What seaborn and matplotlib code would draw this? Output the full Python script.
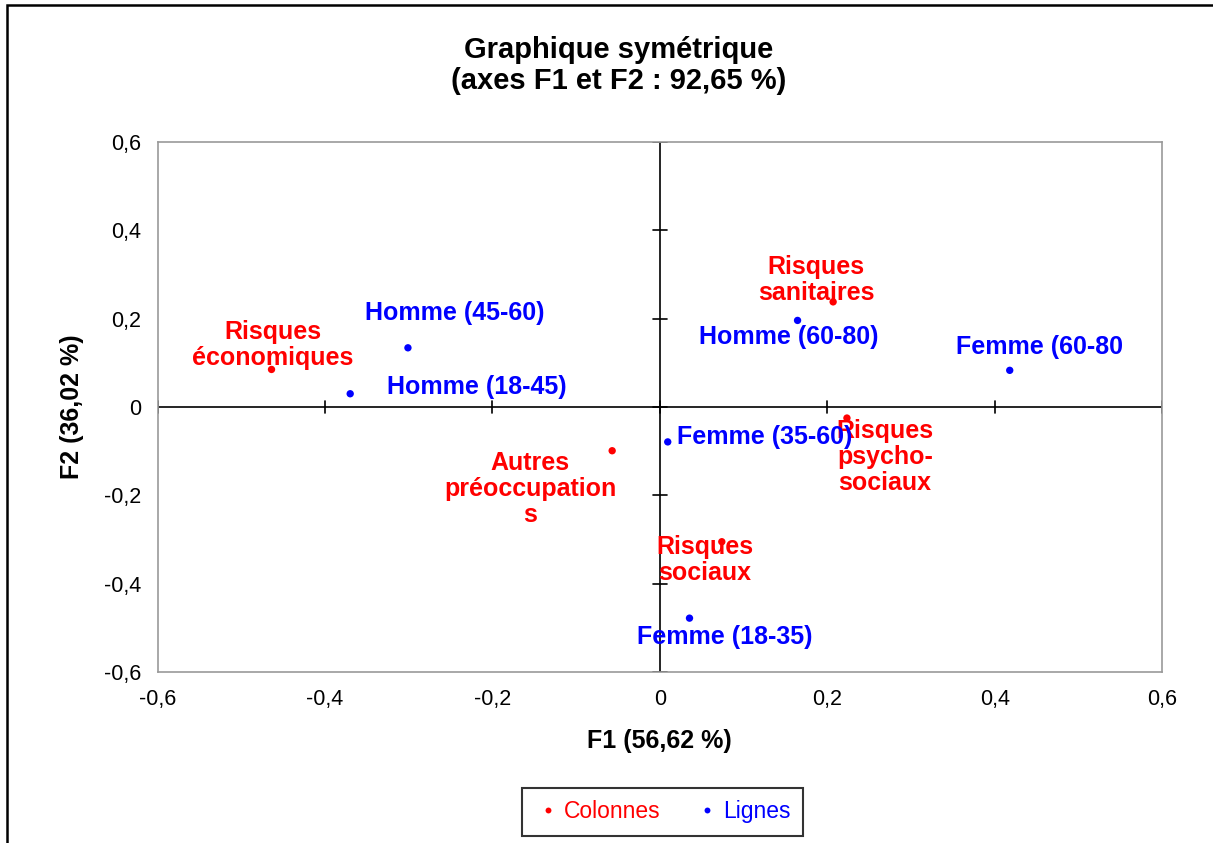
import seaborn as sns
import matplotlib.pyplot as plt
import matplotlib.patches as mpatches
import pandas as pd

# Column points (risk categories)
col_labels = ["Risques\néconomiques", "Risques\nsanitaires", "Risques\npsycho-\nsociaux",
              "Autres\npréoccupation\ns", "Risques\nsociaux"]
col_f1 = [-0.464, 0.207, 0.2235, -0.057, 0.074]
col_f2 = [0.085, 0.238, -0.025, -0.099, -0.305]
col_lab_x = [-0.4625, 0.187, 0.269, -0.155, 0.054]
col_lab_y = [0.141, 0.287, -0.113, -0.185, -0.346]

# Row points (sex / age groups)
row_labels = ["Homme (45-60)", "Homme (18-45)", "Homme (60-80)", "Femme (60-80",
              "Femme (35-60)", "Femme (18-35)"]
row_f1 = [-0.301, -0.370, 0.1645, 0.418, 0.0094, 0.0354]
row_f2 = [0.134, 0.030, 0.196, 0.083, -0.079, -0.478]
row_lab_x = [-0.245, -0.219, 0.154, 0.453, 0.1255, 0.078]
row_lab_y = [0.213, 0.046, 0.158, 0.136, -0.068, -0.521]

ticks = [-0.6, -0.4, -0.2, 0, 0.2, 0.4, 0.6]
tick_labels = ["-0,6", "-0,4", "-0,2", "0", "0,2", "0,4", "0,6"]

df = pd.DataFrame({
    "F1": col_f1 + row_f1,
    "F2": col_f2 + row_f2,
    "type": ["Colonnes"] * len(col_f1) + ["Lignes"] * len(row_f1),
})

sns.set_style("white")
plt.rcParams['font.family'] = ['Liberation Sans', 'DejaVu Sans']
plt.rcParams['text.color'] = 'black'
plt.rcParams['axes.labelcolor'] = 'black'
plt.rcParams['xtick.color'] = 'black'
plt.rcParams['ytick.color'] = 'black'

fig = plt.figure(figsize=(12.13, 8.43), dpi=100)
ax = fig.add_axes([0.130, 0.2028, 0.828, 0.6288])

sns.scatterplot(data=df, x="F1", y="F2", hue="type",
                palette={"Colonnes": "red", "Lignes": "blue"},
                s=28, linewidth=0, ax=ax, zorder=3)

ax.set_xlim(-0.6, 0.6)
ax.set_ylim(-0.6, 0.6)
ax.set_xticks(ticks)
ax.set_xticklabels(tick_labels)
ax.set_yticks(ticks)
ax.set_yticklabels(tick_labels)
ax.tick_params(length=0, labelsize=15.5, pad=12)
for sp in ax.spines.values():
    sp.set_color("#999999")
    sp.set_linewidth(1.2)

# axes through origin with cross ticks
ax.axhline(0, color="black", lw=1.2, zorder=1)
ax.axvline(0, color="black", lw=1.2, zorder=1)
for t in ticks:
    ax.plot([t, t], [-0.014, 0.014], color="black", lw=1.2, zorder=1)
    ax.plot([-0.0085, 0.0085], [t, t], color="black", lw=1.2, zorder=1)

for lab, x, y in zip(col_labels, col_lab_x, col_lab_y):
    ax.text(x, y, lab, color="red", fontsize=18, fontweight="bold",
            ha="center", va="center", linespacing=1.1, zorder=4)
for lab, x, y in zip(row_labels, row_lab_x, row_lab_y):
    ax.text(x, y, lab, color="blue", fontsize=18, fontweight="bold",
            ha="center", va="center", zorder=4)

ax.set_xlabel("F1 (56,62 %)", fontsize=18, fontweight="bold", labelpad=14)
ax.set_ylabel("F2 (36,02 %)", fontsize=18, fontweight="bold", labelpad=14)

fig.text(0.51, 0.922, "Graphique symétrique\n(axes F1 et F2 : 92,65 %)",
         ha="center", va="center", fontsize=21, fontweight="bold", linespacing=1.15)

handles, labels = ax.get_legend_handles_labels()
ax.legend(handles, labels, loc="center", bbox_to_anchor=(0.546, 0.037),
          bbox_transform=fig.transFigure, ncol=2, frameon=True, fancybox=False,
          edgecolor="black", fontsize=16.5, labelcolor=["red", "blue"],
          markerscale=0.8, handletextpad=0.1, columnspacing=1.4,
          handlelength=1.2, borderpad=0.55)
ax.get_legend().get_frame().set_linewidth(1.5)

# outer chart frame (cut off at right and bottom)
fig.patches.append(mpatches.Rectangle((0.006, -0.1), 1.2, 1.094, transform=fig.transFigure,
                                      fill=False, edgecolor="black", lw=1.8))

fig.savefig("out.png", dpi=100)
